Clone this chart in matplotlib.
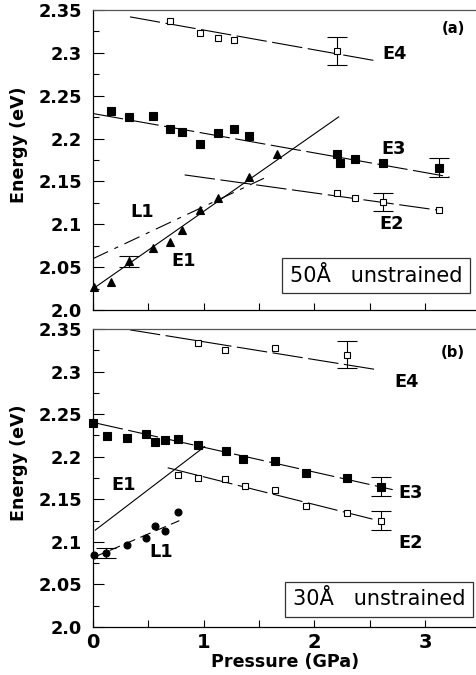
import matplotlib
matplotlib.use("Agg")
import matplotlib.pyplot as plt
from matplotlib.ticker import MultipleLocator, FixedLocator, NullFormatter

plt.rcParams['font.family'] = ['DejaVu Sans']
plt.rcParams['lines.scale_dashes'] = False

# ---------------- data: panel (a) 50 A unstrained ----------------
a_E4_p = [0.70, 0.97, 1.127, 1.277, 2.205]
a_E4_e = [2.3366, 2.3226, 2.317, 2.315, 2.302]
a_E4_err = [0, 0, 0, 0, 0.0165]

a_E3_p = [0.163, 0.322, 0.542, 0.699, 0.807, 0.970, 1.127, 1.277, 1.413,
          2.205, 2.235, 2.370, 2.623, 3.13]
a_E3_e = [2.2319, 2.2253, 2.2261, 2.2117, 2.2078, 2.1942, 2.2070, 2.2109, 2.2031,
          2.1825, 2.1716, 2.1759, 2.1716, 2.1661]
a_E3_err = [0] * 13 + [0.0109]

a_E2_p = [2.205, 2.370, 2.623, 3.13]
a_E2_e = [2.1362, 2.1311, 2.1261, 2.1167]
a_E2_err = [0, 0, 0.0107, 0]

a_E1_p = [0.006, 0.163, 0.322, 0.542, 0.699, 0.807, 0.970, 1.127, 1.413, 1.660]
a_E1_e = [2.0272, 2.0331, 2.0568, 2.0724, 2.0790, 2.0938, 2.1167, 2.1304, 2.1553, 2.1817]
a_E1_err = [0, 0, 0.0062, 0, 0, 0, 0, 0, 0, 0]

# fitted lines (endpoints)
a_fit_E4 = ([0.334, 2.557], [2.342, 2.2907])
a_fit_E3 = ([0.0, 3.22], [2.2292, 2.1553])
a_fit_E2 = ([0.828, 3.13], [2.1576, 2.1163])
a_fit_E1 = ([0.006, 2.22], [2.0253, 2.2253])
a_fit_L1 = ([0.0, 1.545], [2.0599, 2.1537])

# ---------------- data: panel (b) 30 A unstrained ----------------
b_E4_p = [0.949, 1.196, 1.648, 2.298]
b_E4_e = [2.3336, 2.3257, 2.3273, 2.3198]
b_E4_err = [0, 0, 0, 0.0158]

b_E3_p = [0.0, 0.123, 0.310, 0.479, 0.563, 0.648, 0.765, 0.949, 1.205, 1.358,
          1.648, 1.922, 2.298, 2.605]
b_E3_e = [2.2391, 2.2245, 2.2217, 2.2265, 2.2178, 2.2194, 2.2206, 2.2142, 2.2071,
          2.1968, 2.1953, 2.1806, 2.1747, 2.1648]
b_E3_err = [0] * 13 + [0.0113]

b_E2_p = [0.765, 0.949, 1.196, 1.373, 1.648, 1.922, 2.298, 2.605]
b_E2_e = [2.1783, 2.1755, 2.1739, 2.1656, 2.1609, 2.1427, 2.1340, 2.1249]
b_E2_err = [0] * 7 + [0.0113]

b_L1_p = [0.012, 0.117, 0.310, 0.479, 0.563, 0.648, 0.765]
b_L1_e = [2.085, 2.087, 2.096, 2.1051, 2.1186, 2.1126, 2.1348]
b_L1_err = [0, 0.006, 0, 0, 0, 0, 0]

b_fit_E4 = ([0.334, 2.557], [2.349, 2.3024])
b_fit_E3 = ([0.0, 2.708], [2.2403, 2.1613])
b_fit_E2 = ([0.675, 2.557], [2.187, 2.1257])
b_fit_E1 = ([0.021, 1.009], [2.1138, 2.2119])
b_fit_L1 = ([0.012, 0.78], [2.0822, 2.1249])

y_ticks = [2.0, 2.05, 2.1, 2.15, 2.2, 2.25, 2.3, 2.35]
y_tick_labels = ["2.0", "2.05", "2.1", "2.15", "2.2", "2.25", "2.3", "2.35"]
x_ticks = [0, 1, 2, 3]
x_tick_labels = ["0", "1", "2", "3"]

# ---------------- figure ----------------
W, H = 477, 675
fig = plt.figure(figsize=(W / 100, H / 100), dpi=100)
ax_a = fig.add_axes([93 / W, 1 - 310 / H, 384 / W, 300 / H])
ax_b = fig.add_axes([93 / W, 1 - 627 / H, 384 / W, 298 / H])

LONG = (22, 4)
DASHDOT = (12, 5, 3, 5)
SHORT = (8, 4)


def setup(ax, show_xlabels):
    ax.set_xlim(0, 384 / 110.67)
    ax.set_ylim(2.0, 2.35)
    ax.spines['right'].set_visible(False)
    for s in ['left', 'bottom', 'top']:
        ax.spines[s].set_linewidth(0.9)
    ax.spines['top'].set_color('#555555')
    ax.yaxis.set_major_locator(FixedLocator(y_ticks))
    ax.set_yticklabels(y_tick_labels, fontsize=12.8, fontweight='bold')
    ax.yaxis.set_minor_locator(MultipleLocator(0.025))
    ax.xaxis.set_major_locator(FixedLocator(x_ticks))
    ax.xaxis.set_minor_locator(MultipleLocator(0.5))
    ax.tick_params(axis='y', which='major', direction='in', length=8, width=0.8,
                   pad=8, right=False)
    ax.tick_params(axis='y', which='minor', direction='in', length=4, width=0.8,
                   right=False)
    ax.tick_params(axis='x', which='both', direction='in', length=5, width=0.8,
                   top=False, pad=4)
    if show_xlabels:
        ax.set_xticklabels(x_tick_labels, fontsize=14, fontweight='bold')
    else:
        ax.xaxis.set_major_formatter(NullFormatter())
    ax.set_ylabel("Energy (eV)", fontsize=12.6, fontweight='bold')
    ax.yaxis.set_label_coords(-0.17, 0.55)


def fit(ax, line, dashes=None):
    l, = ax.plot(line[0], line[1], color='black', lw=0.8)
    if dashes:
        l.set_dashes(dashes)


def pts(ax, p, e, err, marker, filled, ms):
    ax.errorbar(p, e, yerr=[v if v > 0 else float('nan') for v in err],
                fmt='none', ecolor='black', elinewidth=0.8, capsize=7.5,
                capthick=0.8, clip_on=False)
    ax.plot(p, e, linestyle='none', marker=marker, ms=ms,
            mfc='black' if filled else 'white', mec='black', mew=0.8,
            clip_on=False, zorder=3)


lab = dict(fontsize=12.8, fontweight='bold', ha='center', va='center')
box = dict(boxstyle='square,pad=0.35', fc='white', ec='#333333', lw=0.9)

# ---- panel (a) ----
setup(ax_a, False)
fit(ax_a, a_fit_E4, LONG)
fit(ax_a, a_fit_E3, LONG)
fit(ax_a, a_fit_E2, LONG)
fit(ax_a, a_fit_E1)
fit(ax_a, a_fit_L1, DASHDOT)
pts(ax_a, a_E4_p, a_E4_e, a_E4_err, 's', False, 5)
pts(ax_a, a_E3_p, a_E3_e, a_E3_err, 's', True, 5.5)
pts(ax_a, a_E2_p, a_E2_e, a_E2_err, 's', False, 5)
pts(ax_a, a_E1_p, a_E1_e, a_E1_err, '^', True, 6)
ax_a.text(3.253, 2.328, "(a)", fontsize=10.6, fontweight='bold', ha='center', va='center')
ax_a.text(2.729, 2.299, "E4", **lab)
ax_a.text(2.72, 2.188, "E3", **lab)
ax_a.text(2.70, 2.100, "E2", **lab)
ax_a.text(0.443, 2.114, "L1", **lab)
ax_a.text(0.822, 2.057, "E1", **lab)
ax_a.text(2.557, 2.040, "50Å   unstrained", fontsize=15, ha='center', va='center',
          bbox=box)

# ---- panel (b) ----
setup(ax_b, True)
fit(ax_b, b_fit_E4, LONG)
fit(ax_b, b_fit_E3, LONG)
fit(ax_b, b_fit_E2, LONG)
fit(ax_b, b_fit_E1)
fit(ax_b, b_fit_L1, SHORT)
pts(ax_b, b_E4_p, b_E4_e, b_E4_err, 's', False, 5)
pts(ax_b, b_E3_p, b_E3_e, b_E3_err, 's', True, 5.5)
pts(ax_b, b_E2_p, b_E2_e, b_E2_err, 's', False, 5)
pts(ax_b, b_L1_p, b_L1_e, b_L1_err, 'o', True, 5)
ax_b.text(3.253, 2.322, "(b)", fontsize=10.6, fontweight='bold', ha='center', va='center')
ax_b.text(2.837, 2.2878, "E4", **lab)
ax_b.text(2.873, 2.157, "E3", **lab)
ax_b.text(2.873, 2.0987, "E2", **lab)
ax_b.text(0.28, 2.1668, "E1", **lab)
ax_b.text(0.62, 2.088, "L1", **lab)
ax_b.text(2.584, 2.0326, "30Å   unstrained", fontsize=15, ha='center', va='center',
          bbox=box)
ax_b.set_xlabel("Pressure (GPa)", fontsize=12.6, fontweight='bold', labelpad=1)

fig.savefig("out.png", dpi=100)
